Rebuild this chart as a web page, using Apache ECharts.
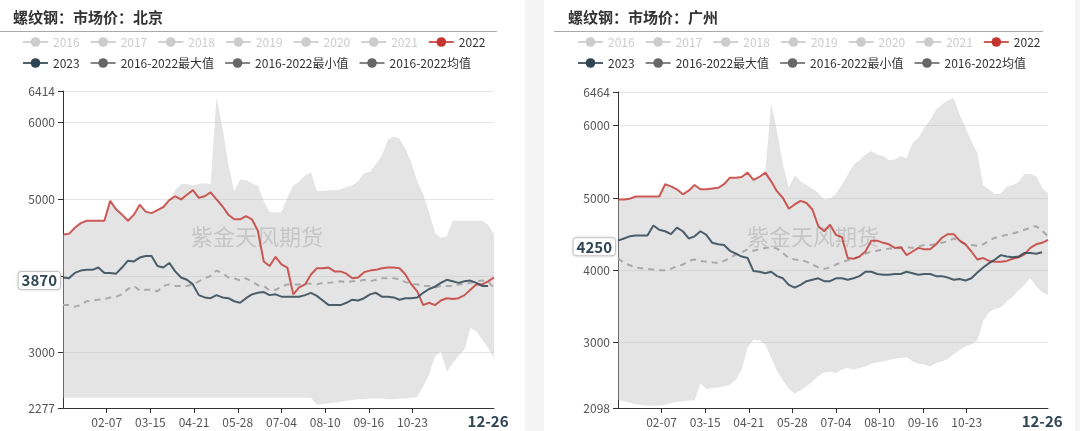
<!DOCTYPE html>
<html><head><meta charset="utf-8">
<script src="https://cdn.jsdelivr.net/npm/echarts@6/dist/echarts.min.js"></script>
<style>
html,body{margin:0;padding:0;width:1080px;height:431px;overflow:hidden;background:#f4f4f4;position:relative;}
.panel{position:absolute;top:0;height:431px;background:#fff;}
#p1{left:-11px;width:536px;}
#p2{left:544px;width:531px;}
</style></head><body>
<div id="p1" class="panel"></div><div id="p2" class="panel"></div>
<script>
const FONT = '"Microsoft YaHei","Noto Sans CJK SC","Noto Sans",sans-serif';
const SAMPLE_STEP = 5; // values below are read every 5 days, from 01-01 to 12-31
const MONTH_DAYS = [31,29,31,30,31,30,31,31,30,31,30,31];
const xTickLabels = ['02-07','03-15','04-21','05-28','07-04','08-10','09-16','10-23'];
const hiddenYears = ['2016','2017','2018','2019','2020','2021'];
const pointerDate = '12-26';

// ---------- 北京 ----------
const bjTitle = '螺纹钢：市场价：北京';
const bjYMin = 2277, bjYMax = 6414;
const bjLatest = 3870;
const bjPointerLevel = 3940;
const bj2022 = [4540,4550,4630,4690,4720,4720,4720,4720,4980,4870,4800,4720,4800,4930,4840,4820,4860,4900,4990,5040,5000,5060,5120,5020,5040,
  5090,5000,4910,4800,4740,4740,4780,4740,4590,4190,4130,4250,4150,4110,3760,3850,3890,4020,4100,4100,4110,4060,4060,4030,3970,
  3980,4050,4070,4080,4100,4110,4110,4100,4020,3890,3800,3620,3650,3620,3680,3710,3700,3710,3750,3820,3890,3890,3930,3980];
const bj2023 = [3980,3970,4040,4070,4080,4080,4110,4040,4040,4030,4110,4200,4190,4240,4260,4260,4130,4110,4170,4060,3980,3950,3890,3750,3720,
  3710,3750,3720,3710,3670,3650,3710,3760,3780,3790,3750,3760,3730,3730,3730,3730,3750,3780,3740,3680,3620,3620,3620,3650,3690,
  3680,3710,3760,3780,3730,3730,3720,3690,3710,3710,3720,3780,3830,3860,3910,3950,3930,3910,3930,3940,3910,3870,3870,null];
const bjMean = [3620,3620,3600,3620,3670,3680,3690,3700,3720,3730,3760,3830,3870,3810,3820,3820,3800,3870,3890,3870,3870,3870,3890,3930,3970,
  4000,4070,4040,3980,3970,3940,3970,3930,3880,3870,3810,3820,3860,3890,3890,3890,3900,3900,3890,3910,3910,3920,3930,3920,3930,
  3930,3950,3930,3950,3970,3970,3970,3960,3920,3900,3890,3870,3870,3850,3870,3870,3870,3890,3900,3910,3930,3940,3930,3840];
const bjMax = [4540,4550,4630,4690,4720,4720,4720,4720,4980,4870,4800,4720,4800,4930,4840,4820,4860,4900,4990,5120,5200,5200,5180,5200,5210,
  5200,6330,5940,5460,5110,5260,5250,5210,5180,4980,4830,4830,4830,5020,5180,5230,5310,5350,5110,5110,5120,5120,5130,5160,5180,
  5240,5340,5360,5460,5570,5770,5820,5790,5660,5480,5240,5070,4830,4560,4500,4520,4720,4720,4720,4720,4720,4720,4670,4540];
const bjMin = [2410,2410,2410,2410,2410,2410,2410,2410,2410,2410,2410,2410,2410,2410,2410,2410,2410,2410,2410,2410,2410,2410,2410,2410,2410,
  2410,2410,2410,2410,2410,2410,2410,2410,2410,2410,2410,2410,2410,2410,2410,2410,2410,2410,2320,2330,2340,2350,2360,2370,2380,
  2390,2390,2400,2400,2400,2390,2390,2400,2400,2410,2420,2560,2710,2950,3010,2750,2860,2960,3040,3320,3280,3170,3060,2930];

// ---------- 广州 ----------
const gzTitle = '螺纹钢：市场价：广州';
const gzYMin = 2098, gzYMax = 6464;
const gzLatest = 4250;
const gzPointerLevel = 4325;
const gz2022 = [4980,4980,4990,5020,5020,5020,5020,5020,5190,5160,5120,5050,5100,5180,5120,5120,5130,5140,5190,5280,5280,5290,5350,5250,5290,
  5350,5230,5090,5000,4850,4910,4960,4930,4840,4610,4540,4630,4490,4460,4170,4160,4190,4260,4410,4410,4380,4360,4310,4320,4210,
  4260,4310,4290,4290,4360,4450,4500,4500,4410,4360,4260,4150,4170,4130,4120,4120,4130,4160,4180,4220,4310,4360,4380,4420];
const gz2023 = [4410,4440,4470,4480,4480,4480,4620,4560,4540,4500,4590,4540,4440,4470,4540,4490,4380,4360,4350,4270,4230,4190,4170,3990,3980,
  3960,3980,3920,3890,3800,3760,3800,3850,3870,3890,3850,3850,3890,3890,3870,3890,3920,3980,3980,3950,3940,3940,3950,3950,3980,
  3960,3940,3950,3950,3920,3920,3900,3870,3880,3860,3890,3970,4040,4100,4150,4210,4190,4180,4190,4240,4240,4230,4250,null];
const gzMean = [4170,4100,4070,4040,4030,4020,4010,4000,4000,4020,4060,4080,4130,4150,4130,4120,4110,4100,4130,4170,4220,4250,4290,4270,4290,
  4310,4320,4300,4240,4170,4150,4140,4120,4080,4040,4020,4040,4080,4110,4140,4160,4190,4230,4260,4270,4290,4300,4300,4310,4320,
  4310,4330,4350,4350,4360,4380,4400,4440,4400,4360,4350,4340,4360,4410,4450,4470,4490,4510,4530,4560,4590,4610,4550,4470];
const gzMax = [4980,4980,4990,5020,5020,5020,5020,5020,5190,5160,5120,5050,5100,5180,5120,5120,5130,5140,5190,5280,5280,5290,5350,5250,5290,
  5350,6300,5920,5460,5140,5310,5230,5180,5130,5070,4980,4990,5060,5180,5320,5460,5520,5600,5650,5600,5580,5520,5530,5580,5550,
  5760,5830,5970,6080,6220,6290,6350,6380,6150,5970,5780,5620,5180,5120,5050,5060,5160,5180,5220,5330,5330,5300,5140,5070];
const gzMin = [2210,2190,2170,2150,2140,2130,2130,2130,2140,2170,2180,2190,2200,2200,2440,2360,2370,2380,2400,2420,2490,2630,2930,3040,3030,
  2980,2790,2610,2480,2360,2300,2340,2400,2460,2540,2590,2600,2580,2630,2650,2630,2650,2670,2710,2730,2740,2760,2780,2790,2800,
  2740,2710,2700,2670,2720,2740,2780,2840,2900,2950,2980,3030,3300,3420,3470,3490,3570,3640,3720,3800,3890,3780,3700,3660];

const categories = [];
MONTH_DAYS.forEach((n, m) => {
  for (let d = 1; d <= n; d++) categories.push(String(m + 1).padStart(2, '0') + '-' + String(d).padStart(2, '0'));
});

const C2022 = '#c23531', C2023 = '#2f4554', CGREY = '#666';

function pairs(arr) { return arr.map((v, k) => [k * SAMPLE_STEP, v]); }

function buildOption(cfg) {
  const showTick = (idx, val) => xTickLabels.indexOf(val) >= 0;
  const bandDiff = cfg.max.map((v, k) => v - cfg.min[k]);
  const legendCommon = {
    left: 28, itemWidth: 25, itemHeight: 12, itemGap: 10, inactiveColor: '#ccc',
    textStyle: { fontSize: 12, color: '#333', fontFamily: FONT }
  };
  const sel = {}; hiddenYears.forEach(y => sel[y] = false);
  const greyLegend = name => ({ name, itemStyle: { color: CGREY }, lineStyle: { color: CGREY, width: 2, type: 'solid', opacity: 0.8 } });
  const series = [
    { name: '2016-2022最小值', type: 'line', data: pairs(cfg.min), stack: 'band', symbol: 'circle', showSymbol: false,
      color: CGREY, lineStyle: { opacity: 0, width: 0 }, z: 1, silent: true },
    { name: '2016-2022最大值', type: 'line', data: pairs(bandDiff), stack: 'band', symbol: 'circle', showSymbol: false,
      color: CGREY, lineStyle: { opacity: 0, width: 0 }, areaStyle: { color: '#bebebe', opacity: 0.42 }, z: 1, silent: true },
    { name: '2016-2022均值', type: 'line', data: pairs(cfg.mean), symbol: 'circle', showSymbol: false,
      color: CGREY, lineStyle: { color: '#aaa', width: 2, type: [6, 5] }, z: 3, silent: true },
    { name: '2022', type: 'line', data: pairs(cfg.y2022), symbol: 'circle', showSymbol: false,
      color: C2022, lineStyle: { width: 2, opacity: 0.8 }, z: 3, silent: true },
    { name: '2023', type: 'line', data: pairs(cfg.y2023), symbol: 'circle', showSymbol: false,
      color: C2023, lineStyle: { width: 2, opacity: 0.85 }, z: 4, silent: true }
  ];
  hiddenYears.forEach(y => series.push({ name: y, type: 'line', data: [], symbol: 'circle', showSymbol: false, color: '#999' }));
  return {
    animation: false,
    textStyle: { fontFamily: FONT },
    title: { text: cfg.title, left: 19, top: 5, textStyle: { fontSize: 15, fontWeight: 'bold', color: '#333', fontFamily: FONT } },
    graphic: [
      { type: 'line', shape: { x1: 10, y1: 31.5, x2: cfg.lineEnd, y2: 31.5 }, style: { stroke: '#a8a8a8', lineWidth: 1 }, silent: true },
      { type: 'text', x: cfg.wmX, y: 237, z: 2, silent: true,
        style: { text: '紫金天风期货', fontSize: 22, fill: 'rgba(140,140,140,0.35)', align: 'center', verticalAlign: 'middle', fontFamily: FONT } }
    ],
    legend: [
      Object.assign({ top: 31, selected: sel, data: hiddenYears.concat(['2022']) }, legendCommon),
      Object.assign({ top: 52, data: ['2023', greyLegend('2016-2022最大值'), greyLegend('2016-2022最小值'), greyLegend('2016-2022均值')] }, legendCommon)
    ],
    grid: { left: 74, right: cfg.gridRight, top: cfg.gridTop, bottom: 23 },
    xAxis: {
      type: 'category', data: categories, boundaryGap: false,
      axisLine: { lineStyle: { color: '#333' } },
      axisTick: { interval: showTick, lineStyle: { color: '#333' } },
      axisLabel: { interval: showTick, color: '#555', fontSize: 12, margin: 8, fontFamily: FONT },
      splitLine: { show: false },
      axisPointer: {
        show: true, status: 'show', value: categories.indexOf(pointerDate), triggerTooltip: false,
        lineStyle: { opacity: 0 },
        label: { show: true, color: '#2f4554', fontWeight: 'bold', fontSize: 15, backgroundColor: 'rgba(255,255,255,0)', padding: [1, 3], margin: 5, fontFamily: FONT }
      }
    },
    yAxis: {
      type: 'value', min: cfg.yMin, max: cfg.yMax,
      axisLine: { show: true, lineStyle: { color: '#333' } },
      axisTick: { show: true, lineStyle: { color: '#333' } },
      axisLabel: { color: '#555', fontSize: 12, fontFamily: FONT, formatter: v => String(v) },
      splitLine: { show: true, lineStyle: { color: '#e6e6e6' } },
      axisPointer: {
        show: true, status: 'show', value: cfg.pointerLevel, triggerTooltip: false,
        lineStyle: { opacity: 0 },
        label: { show: true, formatter: () => String(cfg.latest), color: '#2f4554', fontWeight: 'bold', fontSize: 15,
          backgroundColor: '#fff', borderColor: '#d0d0d0', borderWidth: 1, padding: [1, 3], margin: 3,
          shadowBlur: 3, shadowColor: 'rgba(0,0,0,0.15)', fontFamily: FONT }
      }
    },
    series
  };
}

const c1 = echarts.init(document.getElementById('p1'), null, { renderer: 'canvas' });
c1.setOption(buildOption({ title: bjTitle, yMin: bjYMin, yMax: bjYMax, latest: bjLatest, pointerLevel: bjPointerLevel,
  y2022: bj2022, y2023: bj2023, mean: bjMean, max: bjMax, min: bjMin,
  lineEnd: 508, wmX: 268, gridRight: 31, gridTop: 91 }));
const c2 = echarts.init(document.getElementById('p2'), null, { renderer: 'canvas' });
c2.setOption(buildOption({ title: gzTitle, yMin: gzYMin, yMax: gzYMax, latest: gzLatest, pointerLevel: gzPointerLevel,
  y2022: gz2022, y2023: gz2023, mean: gzMean, max: gzMax, min: gzMin,
  lineEnd: 499, wmX: 269, gridRight: 27, gridTop: 92 }));
</script>
</body></html>
